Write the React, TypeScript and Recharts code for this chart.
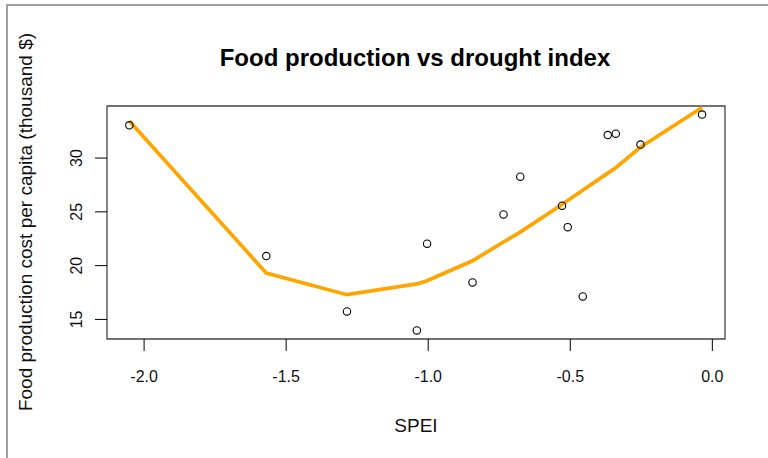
import React from 'react';
import { ComposedChart, Line, Scatter, XAxis, YAxis, ReferenceArea, Customized } from 'recharts';

const speiValues = [-2.052, -1.57, -1.286, -1.04, -1.004, -0.844, -0.735, -0.676, -0.529, -0.509, -0.456, -0.368, -0.34, -0.253, -0.036];
const costValues = [33.04, 20.89, 15.74, 13.98, 22.04, 18.44, 24.76, 28.27, 25.57, 23.58, 17.14, 32.14, 32.27, 31.25, 34.04];
const smoothValues = [33.44, 19.31, 17.3, 18.3, 18.6, 20.45, 22.2, 23.12, 25.69, 26.05, 27.0, 28.6, 29.1, 31.0, 34.7];
const xTicks = [-2.0, -1.5, -1.0, -0.5, 0.0];
const yTicks = [15, 20, 25, 30];
const xDomain: [number, number] = [-2.1306, 0.0446];
const yDomain: [number, number] = [13.18, 34.84];

const title = 'Food production vs drought index';
const xLabel = 'SPEI';
const yLabel = 'Food production cost per capita (thousand $)';

const points = speiValues.map((x, i) => ({ x, y: costValues[i] }));
const smooth = speiValues.map((x, i) => ({ x, y: smoothValues[i] }));

const FONT = '"Liberation Sans", Arial, sans-serif';

const YTick = (props: any) => {
  const { x, y, payload } = props;
  return (
    <text
      transform={`translate(${x},${y}) rotate(-90)`}
      textAnchor="middle"
      fontFamily={FONT}
      fontSize={16}
      fill="#111"
    >
      {payload.value}
    </text>
  );
};

const XTick = (props: any) => {
  const { x, y, payload } = props;
  return (
    <text x={x} y={y} dy="0.71em" textAnchor="middle" fontFamily={FONT} fontSize={16} fill="#111">
      {Number(payload.value).toFixed(1)}
    </text>
  );
};

const Texts = () => (
  <g>
    <text x={415} y={66} textAnchor="middle" fontFamily={FONT} fontSize={24} fontWeight="bold" fill="#000">
      {title}
    </text>
    <text x={416} y={432} textAnchor="middle" fontFamily={FONT} fontSize={19} fill="#111">
      {xLabel}
    </text>
    <text
      transform="translate(32,222) rotate(-90)"
      textAnchor="middle"
      fontFamily={FONT}
      fontSize={19}
      fill="#111"
    >
      {yLabel}
    </text>
  </g>
);

const Dot = (props: any) => {
  const { cx, cy } = props;
  return <circle cx={cx} cy={cy} r={3.7} fill="none" stroke="#000" strokeWidth={1.1} />;
};

export default function App() {
  return (
    <div style={{ position: 'absolute', left: 0, top: 0, width: 768, height: 458, background: '#fff' }}>
      <div
        style={{
          position: 'absolute',
          left: 6,
          top: 4,
          width: 800,
          height: 500,
          borderTop: '2px solid #a0a0a0',
          borderLeft: '2px solid #a0a0a0',
        }}
      />
      <div style={{ position: 'absolute', left: 0, top: 0 }}>
        <ComposedChart width={768} height={458} margin={{ top: 106, right: 43, bottom: 69, left: 0 }}>
          <XAxis
            type="number"
            dataKey="x"
            domain={xDomain}
            ticks={xTicks}
            allowDataOverflow
            axisLine={false}
            tickSize={12}
            tickMargin={20}
            tickLine={{ stroke: '#000', strokeWidth: 1 }}
            tick={<XTick />}
            height={50}
          />
          <YAxis
            type="number"
            dataKey="y"
            domain={yDomain}
            ticks={yTicks}
            allowDataOverflow
            axisLine={false}
            tickSize={12}
            tickMargin={13}
            tickLine={{ stroke: '#000', strokeWidth: 1 }}
            tick={<YTick />}
            width={107}
          />
          <ReferenceArea
            x1={xDomain[0]}
            x2={xDomain[1]}
            y1={yDomain[0]}
            y2={yDomain[1]}
            fill="none"
            fillOpacity={0}
            stroke="#444"
            strokeWidth={1.3}
            ifOverflow="visible"
          />
          <Line
            data={smooth}
            dataKey="y"
            type="linear"
            stroke="#FFA500"
            strokeWidth={3.7}
            dot={false}
            activeDot={false}
            isAnimationActive={false}
          />
          <Scatter data={points} dataKey="y" shape={<Dot />} isAnimationActive={false} />
          <Customized component={Texts} />
        </ComposedChart>
      </div>
    </div>
  );
}
